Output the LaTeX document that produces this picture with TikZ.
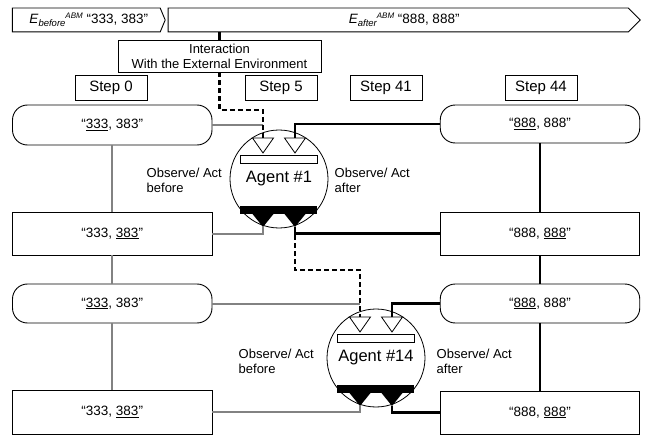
\documentclass[tikz,border=0pt]{standalone}
\usepackage{fontspec}
\setmainfont{Liberation Sans}
\definecolor{lgray}{RGB}{130,130,130}
\newcommand\Esub[2]{\textit{E}\raisebox{-3pt}{\fontsize{9.5}{10}\selectfont\itshape #1}\raisebox{5.5pt}{\fontsize{8}{9}\selectfont\itshape #2}}
\newcommand\agentbody[2]{%
  \node[agent] (#1) at (0,0) {#2};
  \draw[line width=0.8pt, fill=white] (-39,-24) rectangle (38,-16);
  \fill (-39,27) rectangle (38,35);
  \draw[line width=0.8pt, fill=white, line join=miter] (-26.5,-41) -- (-5.5,-41) -- (-16,-26) -- cycle;
  \draw[line width=0.8pt, fill=white, line join=miter] (5.5,-41) -- (26.5,-41) -- (16,-26) -- cycle;
  \fill (-26.5,35) -- (-5.5,35) -- (-16,48) -- cycle;
  \fill (5.5,35) -- (26.5,35) -- (16,48) -- cycle;
  \coordinate (#1tl) at (-16,-41);
  \coordinate (#1tr) at (16,-41);
  \coordinate (#1bl) at (-16,48);
  \coordinate (#1br) at (16,48);
}
\tikzset{
  boxline/.style={draw=black, line width=0.9pt},
  barbox/.style={minimum height=23.5pt, inner sep=0, font=\fontsize{13.5}{16}\selectfont},
  stepbox/.style={boxline, minimum width=72pt, minimum height=25.5pt, inner sep=0, font=\fontsize{15}{18}\selectfont},
  statebox/.style={boxline, minimum width=199.5pt, minimum height=43pt, inner sep=0, font=\fontsize{13.5}{16}\selectfont},
  roundbox/.style={statebox, rounded corners=15pt, minimum height=39pt},
  agent/.style={circle, draw, line width=0.8pt, minimum size=98pt, inner sep=0, font=\fontsize{16.5}{18}\selectfont},
  obs/.style={anchor=west, align=left, inner sep=0, font=\fontsize{13}{15}\selectfont},
  blk/.style={line width=2.2pt},
  gry/.style={line width=2pt, draw=lgray},
  dsh/.style={line width=2.2pt, dash pattern=on 5pt off 3pt},
}
\begin{document}
\begin{tikzpicture}[x=1pt,y=-1pt]
\useasboundingbox[fill=white] (0,0) rectangle (649,436);

% top bars
\node[barbox, minimum width=152.5pt] (eb) at (88.75,20)
  {\Esub{before}{ABM} “333, 383”};
\draw[boxline] (eb.north west) -- ([xshift=-5pt]eb.north east) -- (eb.east)
  -- ([xshift=-5pt]eb.south east) -- (eb.south west) -- cycle;
\node[barbox, minimum width=471.7pt] (ea) at (404.15,20)
  {\Esub{after}{ABM} “888, 888”};
\draw[boxline] (ea.north west) -- ([xshift=-12pt]ea.north east) -- (ea.east)
  -- ([xshift=-12pt]ea.south east) -- (ea.south west) -- cycle;

% interaction box
\node[boxline, minimum width=203pt, minimum height=31.5pt, inner sep=0, align=center,
  font=\fontsize{13}{15}\selectfont] (inter) at (219.5,56.25)
  {Interaction\\With the External Environment};

% step labels
\node[stepbox] (st0) at (111,88) {Step 0};
\node[stepbox] (st5) at (281,88) {Step 5};
\node[stepbox] (st41) at (386,88) {Step 41};
\node[stepbox] (st44) at (541,88) {Step 44};

% left column
\node[roundbox, minimum height=40pt] (s1) at (112.25,125) {“\underline{333}, 383”};
\node[statebox] (s2) at (112.25,233.5) {“333, \underline{383}”};
\node[roundbox] (s3) at (112.25,303.5) {“\underline{333}, 383”};
\node[statebox, minimum height=44pt] (s4) at (112.25,412) {“333, \underline{383}”};

% right column
\node[roundbox, minimum height=38pt] (t1) at (540,124) {“\underline{888}, 888”};
\node[statebox] (t2) at (540,233.5) {“888, \underline{888}”};
\node[roundbox] (t3) at (540,303.5) {“\underline{888}, 888”};
\node[statebox, minimum height=43pt] (t4) at (540,412.5) {“888, \underline{888}”};

% observe labels
\node[obs] (o1) at (146.5,180) {Observe/ Act\\before};
\node[obs] (o2) at (334.5,180) {Observe/ Act\\after};
\node[obs] (o3) at (238.5,361) {Observe/ Act\\before};
\node[obs] (o4) at (436.5,361) {Observe/ Act\\after};

% vertical column connectors
\draw[gry] (s1.south) -- (s2.north);
\draw[gry] (s2.south) -- (s3.north);
\draw[gry] (s3.south) -- (s4.north);
\draw[blk] (t1.south) -- (t2.north);
\draw[blk] (t2.south) -- (t3.north);
\draw[blk] (t3.south) -- (t4.north);

% agents
\begin{scope}[shift={(279,179)}]
\agentbody{aa}{Agent \#1}
\end{scope}
\begin{scope}[shift={(376,358)}]
\agentbody{ab}{Agent \#14}
\end{scope}

\coordinate (d1) at (aatl |- 0,110);
\coordinate (d2) at (abtl |- 0,270);

% connectors agent 1
\draw[blk] (ea.south -| inter.north) -- (inter.north);
\draw[gry] (s1.east) -- (s1.east -| aatl);
\draw[dsh] (inter.south) |- (d1) -- (aatl);
\draw[blk] (aatr) |- (t1.west);
\draw[gry] (s2.east) -| (aabl);
\draw[blk] (t2.west) -| (aabr);
\draw[dsh] (aabr) |- (d2) -- (abtl);

% connectors agent 14
\draw[gry] (s3.east) -- (s3.east -| abtl);
\draw[blk] (abtr) |- (t3.west);
\draw[gry] (s4.east) -| (abbl);
\draw[blk] (t4.west) -| (abbr);
\end{tikzpicture}
\end{document}
